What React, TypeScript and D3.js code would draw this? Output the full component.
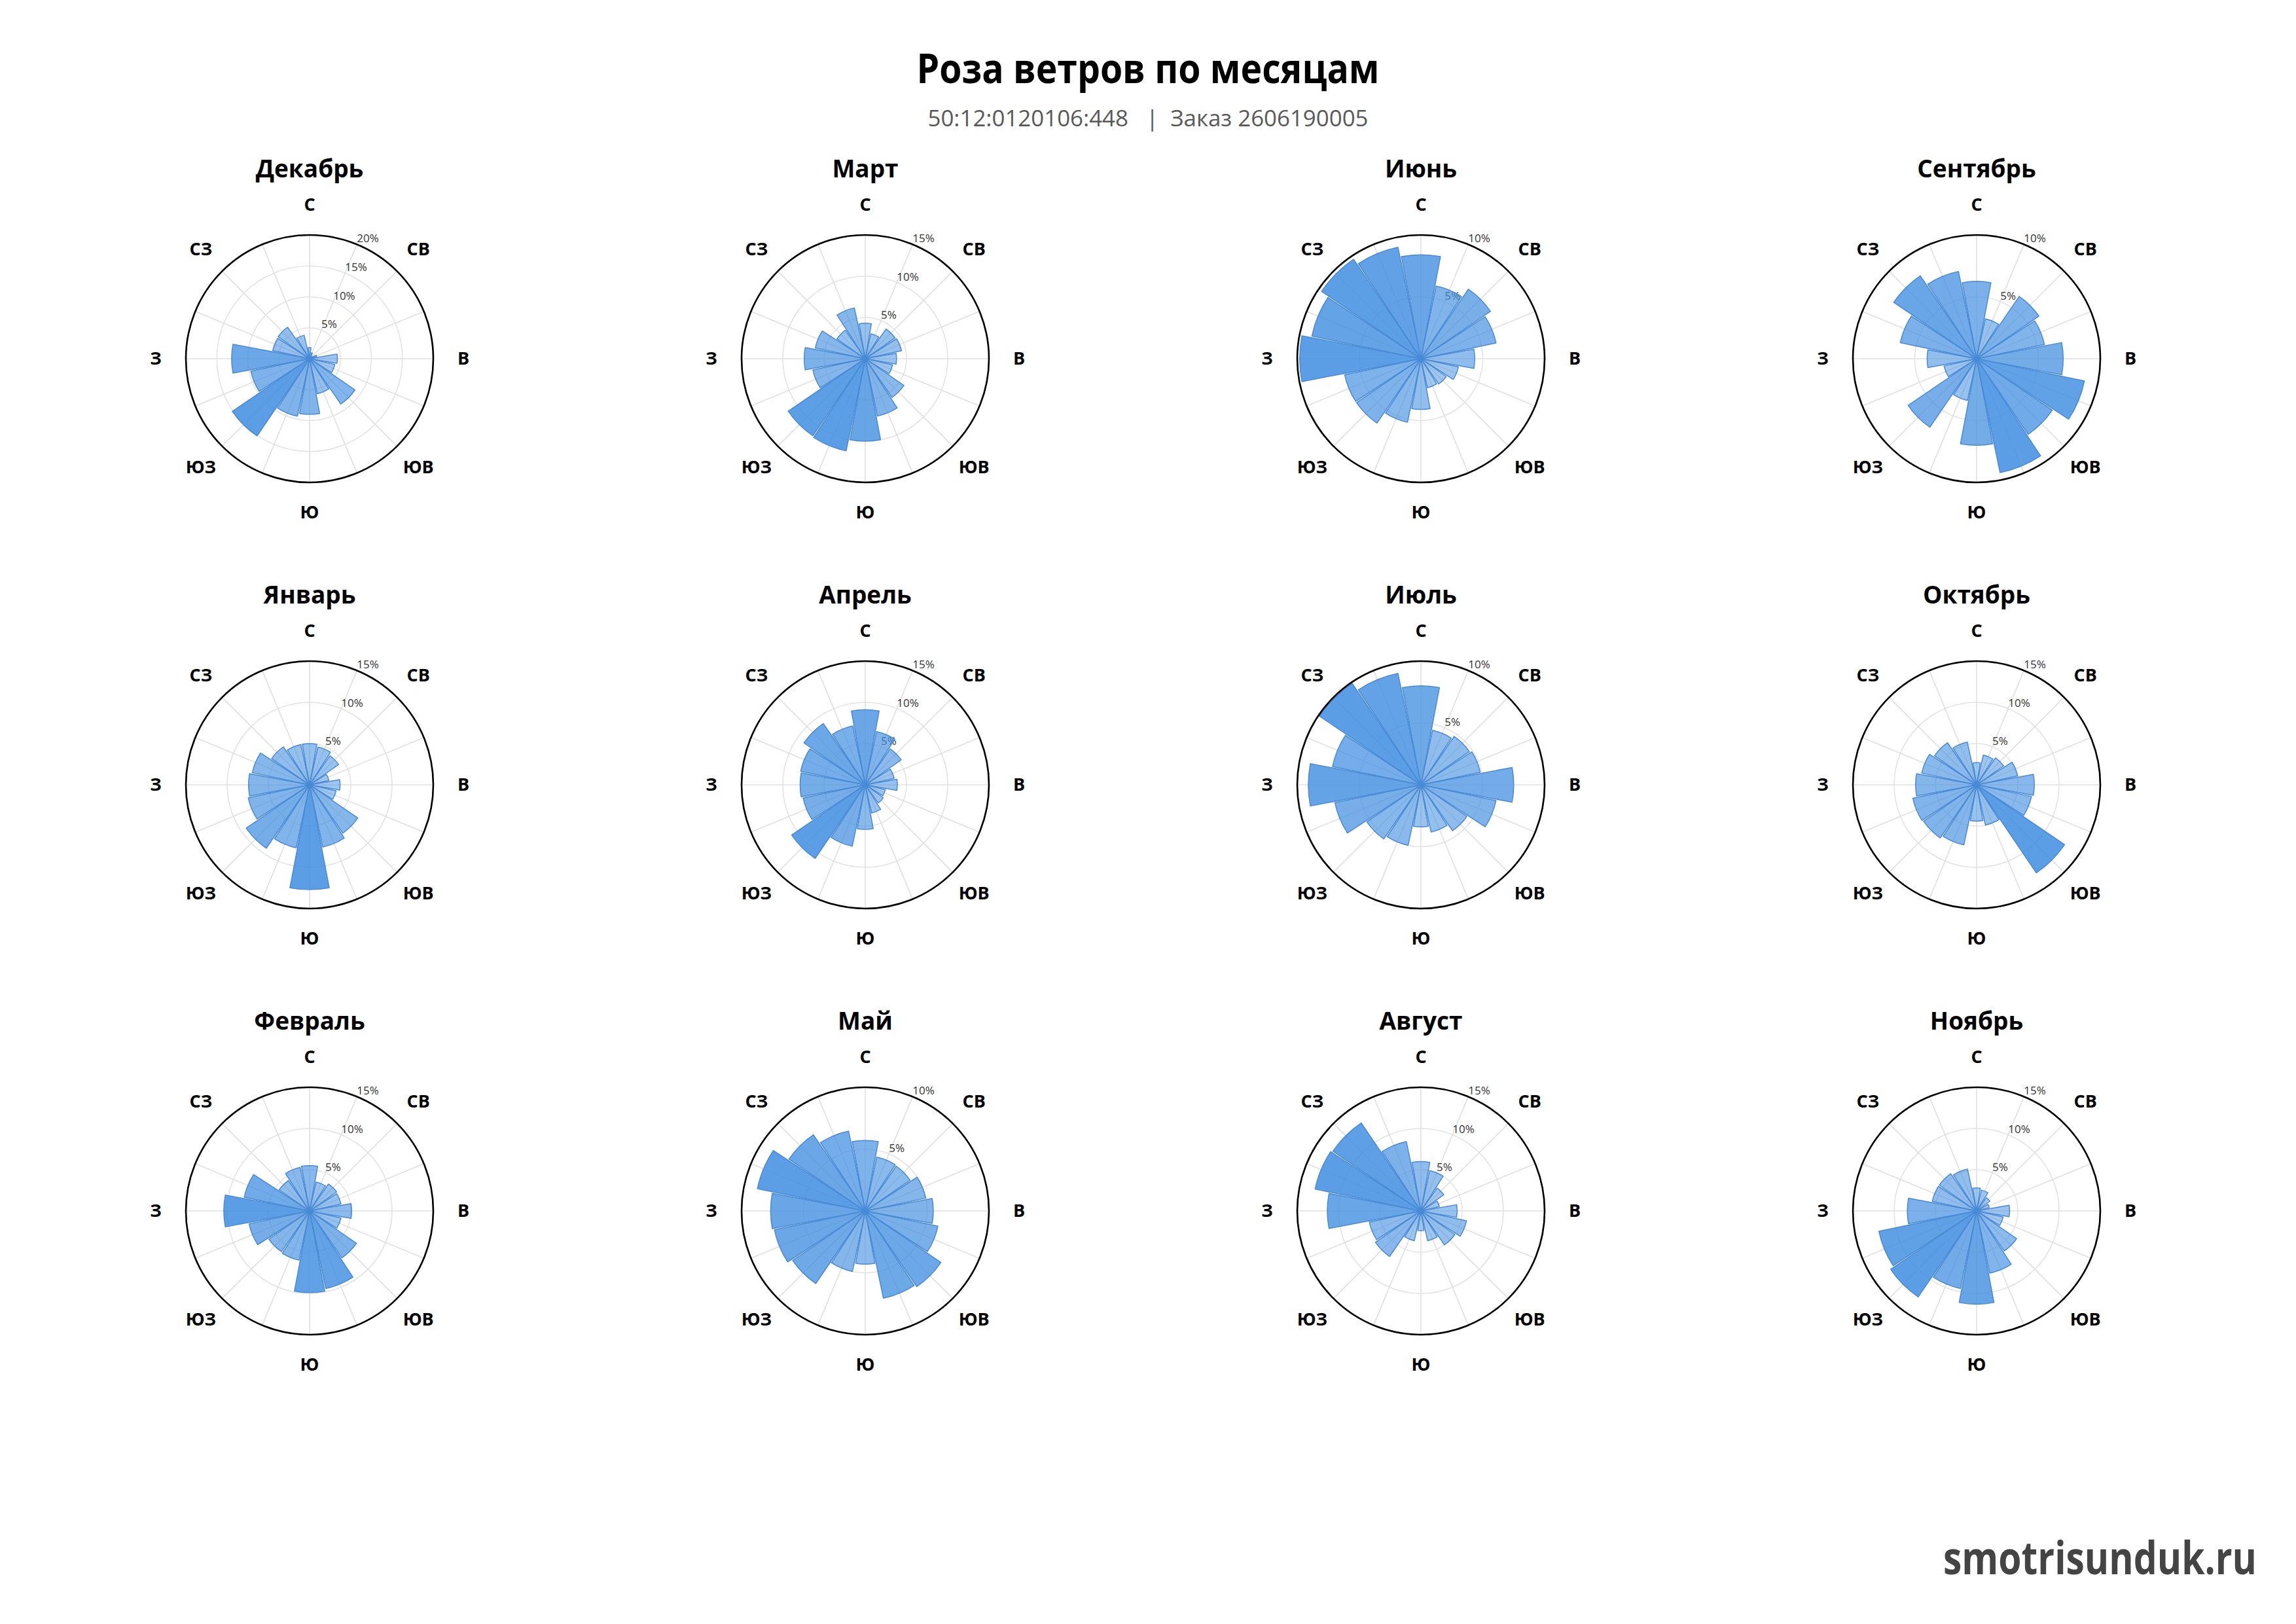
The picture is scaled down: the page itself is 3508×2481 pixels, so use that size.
import * as d3 from "d3";
import { useRef, useLayoutEffect, useState } from "react";

// 16 румбов по часовой стрелке, начиная с севера
const directions = [
  "С", "ССВ", "СВ", "ВСВ", "В", "ВЮВ", "ЮВ", "ЮЮВ",
  "Ю", "ЮЮЗ", "ЮЗ", "ЗЮЗ", "З", "ЗСЗ", "СЗ", "ССЗ",
];
const shownLabels = ["С", "СВ", "В", "ЮВ", "Ю", "ЮЗ", "З", "СЗ"];

// повторяемость ветра, %
const december = [1.8, 1.0, 0.6, 1.2, 4.5, 4.2, 8.9, 5.8, 9.0, 9.5, 15.1, 9.7, 12.6, 6.1, 6.2, 3.9];
const january = [5.0, 4.7, 4.3, 2.4, 3.7, 3.3, 7.1, 7.7, 12.7, 7.8, 9.3, 7.6, 7.4, 7.1, 5.6, 5.0];
const february = [5.5, 3.6, 4.0, 3.9, 5.1, 3.9, 6.9, 9.6, 9.9, 6.1, 6.0, 7.5, 10.4, 8.1, 4.5, 5.4];
const march = [4.3, 3.1, 4.4, 4.5, 3.8, 3.4, 5.7, 7.1, 10.0, 11.4, 11.3, 6.5, 7.4, 6.2, 4.2, 6.3];
const april = [9.1, 6.6, 5.3, 3.6, 3.9, 2.5, 2.7, 3.5, 5.4, 7.6, 10.8, 7.7, 7.9, 8.0, 9.0, 7.3];
const may = [5.7, 4.45, 4.4, 5.0, 5.5, 6.0, 7.4, 7.2, 4.3, 5.0, 7.1, 7.5, 7.65, 8.9, 7.45, 6.6];
const june = [8.4, 6.0, 6.8, 6.2, 4.35, 3.1, 2.5, 2.4, 4.1, 5.25, 6.3, 6.3, 9.8, 9.0, 9.7, 9.2];
const july = [8.0, 4.5, 4.75, 4.9, 7.5, 6.2, 4.5, 3.9, 3.4, 5.0, 5.3, 7.1, 9.1, 7.3, 9.9, 9.2];
const august = [6.0, 5.0, 3.4, 2.3, 4.4, 5.65, 5.0, 3.7, 2.4, 3.7, 6.7, 6.4, 11.35, 13.1, 12.9, 8.6];
const september = [6.25, 3.3, 6.1, 5.6, 7.0, 8.9, 7.4, 9.4, 7.0, 3.45, 6.7, 2.7, 4.0, 6.3, 8.1, 7.2];
const october = [2.7, 3.7, 4.0, 5.1, 7.0, 6.8, 12.9, 5.0, 4.4, 7.45, 7.8, 7.9, 7.4, 6.8, 6.2, 5.3];
const november = [2.8, 2.6, 2.0, 1.6, 4.0, 3.3, 5.9, 7.7, 11.3, 9.6, 12.6, 12.1, 8.4, 5.5, 5.5, 5.2];

// порядок в сетке: по столбцам
const months = [
  { name: "Декабрь", values: december },
  { name: "Январь", values: january },
  { name: "Февраль", values: february },
  { name: "Март", values: march },
  { name: "Апрель", values: april },
  { name: "Май", values: may },
  { name: "Июнь", values: june },
  { name: "Июль", values: july },
  { name: "Август", values: august },
  { name: "Сентябрь", values: september },
  { name: "Октябрь", values: october },
  { name: "Ноябрь", values: november },
];

const title = "Роза ветров по месяцам";
const subtitle = "50:12:0120106:448   |  Заказ 2606190005";
const watermark = "smotrisunduk.ru";

const W = 3508;
const H = 2481;
const R = 189;
const FONT = "'Open Sans', 'Noto Sans', sans-serif";

const colX = d3.scaleLinear().domain([0, 3]).range([473, 3020]);
const rowY = d3.scaleLinear().domain([0, 2]).range([548, 1850]);

const step = (2 * Math.PI) / directions.length;

const WindRose = ({ name, values, cx, cy }) => {
  const dataMax = d3.max(values);
  const max = Math.ceil(dataMax / 5) * 5;
  const r = d3.scaleLinear().domain([0, max]).range([0, R]);
  const ticks = d3.range(5, max + 0.01, 5);
  const opacity = d3.scaleLinear().domain([0, dataMax]).range([0.38, 0.88]);

  const arc = d3
    .arc()
    .innerRadius(0)
    .outerRadius((d) => r(d.v))
    .startAngle((d) => d.i * step - step / 2)
    .endAngle((d) => d.i * step + step / 2)
    .padRadius(100)
    .padAngle(0.024);

  const bars = values.map((v, i) => ({ v, i }));

  return (
    <g transform={`translate(${cx},${cy})`}>
      {/* сетка */}
      {ticks
        .filter((t) => t < max)
        .map((t) => (
          <circle key={t} r={r(t)} fill="none" stroke="#e3e3e3" strokeWidth={1.6} />
        ))}
      {directions.map((d, i) => (
        <line
          key={d}
          x1={0}
          y1={0}
          x2={R * Math.sin(i * step)}
          y2={-R * Math.cos(i * step)}
          stroke="#e0e0e0"
          strokeWidth={1.6}
        />
      ))}
      {ticks.map((t) => (
        <text
          key={t}
          x={r(t) * Math.sin(step)}
          y={-r(t) * Math.cos(step) - 3}
          fontFamily={FONT}
          fontSize={17}
          fill="#333"
        >
          {t}%
        </text>
      ))}
      {/* столбцы */}
      {bars.map((d) => (
        <path
          key={d.i}
          d={arc(d)}
          fill="rgb(70,145,225)"
          fillOpacity={opacity(d.v)}
          stroke="rgb(72,138,214)"
          strokeWidth={1.5}
          strokeLinejoin="round"
        />
      ))}
      <circle r={R} fill="none" stroke="#000" strokeWidth={2.6} />
      {directions.map((d, i) =>
        shownLabels.includes(d) ? (
          <text
            key={d}
            x={235 * Math.sin(i * step)}
            y={-235 * Math.cos(i * step) - 2}
            textAnchor="middle"
            dominantBaseline="central"
            fontFamily={FONT}
            fontWeight="bold"
            fontSize={27}
            fill="#000"
          >
            {d}
          </text>
        ) : null,
      )}
      <text
        y={-277}
        textAnchor="middle"
        fontFamily={FONT}
        fontWeight="bold"
        fontSize={37}
        fill="#000"
      >
        {name}
      </text>
    </g>
  );
};

// подпись сайта сжимается по ширине до размера оригинала
const Watermark = () => {
  const ref = useRef(null);
  const [sx, setSx] = useState(0.8);
  useLayoutEffect(() => {
    if (ref.current) {
      const w = ref.current.getComputedTextLength();
      if (w > 0) setSx(479 / w);
    }
  }, []);
  return (
    <g transform={`translate(3448,2405) scale(${sx},1)`}>
      <text
        ref={ref}
        textAnchor="end"
        fontFamily={FONT}
        fontWeight="bold"
        fontSize={70}
        fill="#444"
      >
        {watermark}
      </text>
    </g>
  );
};

export default function App() {
  return (
    <svg
      width={W}
      height={H}
      style={{ position: "absolute", left: 0, top: 0, background: "#fff" }}
    >
      <rect width={W} height={H} fill="#fff" />
      <text
        x={1754}
        y={127}
        textAnchor="middle"
        fontFamily="'Liberation Sans Narrow', 'Open Sans', sans-serif"
        fontWeight="bold"
        fontSize={62}
        textLength={707}
        lengthAdjust="spacingAndGlyphs"
      >
        {title}
      </text>
      <text
        x={1754}
        y={193}
        textAnchor="middle"
        fontFamily="'Liberation Sans Narrow', 'Open Sans', sans-serif"
        fontSize={34}
        fill="#595959"
        textLength={673}
        lengthAdjust="spacingAndGlyphs"
        style={{ whiteSpace: "pre" }}
      >
        {subtitle}
      </text>
      {months.map((m, k) => (
        <WindRose
          key={m.name}
          name={m.name}
          values={m.values}
          cx={colX(Math.floor(k / 3))}
          cy={rowY(k % 3)}
        />
      ))}
      <Watermark />
    </svg>
  );
}
